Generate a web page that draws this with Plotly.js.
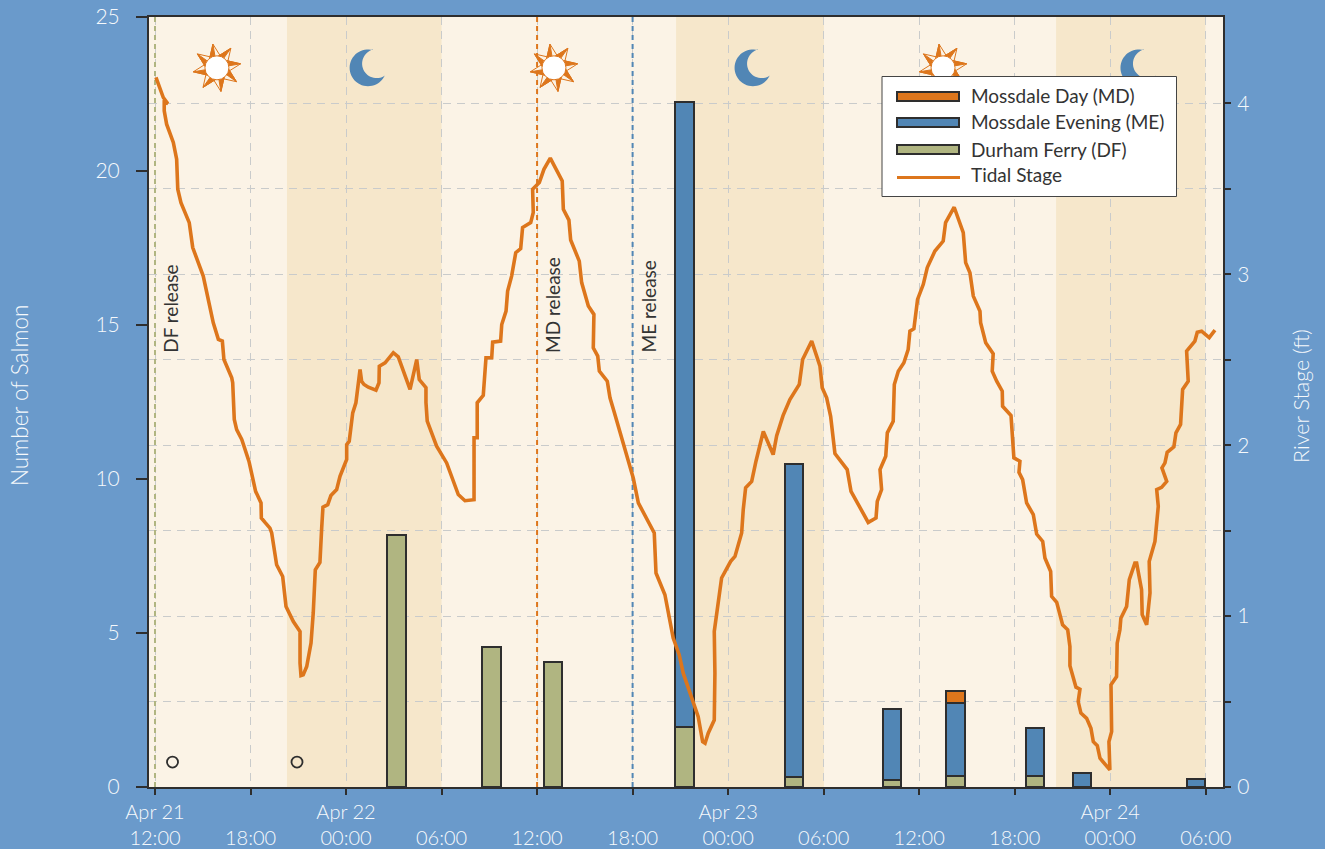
<!DOCTYPE html>
<html><head><meta charset="utf-8">
<script src="https://cdn.plot.ly/plotly-3.0.1.min.js"></script>
<style>html,body{margin:0;padding:0;background:#6A9ACB}</style></head>
<body><div id="chart" style="width:1325px;height:849px"></div>
<script>
// hours after Apr 21 12:00
const tickHours=[0,6,12,18,24,30,36,42,48,54,60,66];
const tickLabels=['Apr 21<br>12:00',' <br>18:00','Apr 22<br>00:00',' <br>06:00',' <br>12:00',' <br>18:00','Apr 23<br>00:00',' <br>06:00',' <br>12:00',' <br>18:00','Apr 24<br>00:00',' <br>06:00'];
const barHours=[15.17,21.14,25.0,33.26,40.16,46.29,50.28,55.3,58.22,65.37];
const durhamFerry=[8.18,4.55,4.06,1.96,0.32,0.23,0.36,0.36,null,null];
const mossdaleEvening=[null,null,null,20.28,10.17,2.3,2.37,1.57,0.44,0.26];
const mossdaleDay=[null,null,null,null,null,null,0.39,null,null,null];
const stageHours=[0.06,0.52,0.80,0.58,0.58,0.73,1.15,1.36,1.43,1.63,2.15,2.37,3.03,3.66,3.98,4.23,4.33,4.82,4.88,4.98,5.13,5.45,5.90,6.32,6.66,6.68,6.91,7.22,7.33,7.64,8.02,8.23,8.69,9.11,9.11,9.17,9.31,9.53,9.80,9.94,10.07,10.36,10.47,10.55,10.85,11.05,11.41,11.62,12.04,12.04,12.20,12.42,12.62,12.88,12.98,13.13,13.40,13.88,14.07,14.09,14.45,14.97,15.28,16.02,16.44,16.60,17.02,17.02,17.10,17.69,18.32,19.05,19.47,20.04,20.04,20.24,20.24,20.62,20.79,21.15,21.21,21.71,21.78,22.05,22.15,22.40,22.66,22.97,23.09,23.60,23.76,23.72,24.14,24.43,24.83,25.58,25.65,26.00,26.11,26.65,26.80,27.22,27.57,27.53,27.81,27.91,28.41,28.58,28.83,29.52,30.04,30.36,31.36,31.47,32.03,32.55,32.93,33.18,34.12,34.40,34.55,34.75,35.13,35.17,35.13,35.59,36.16,36.43,36.85,36.95,37.10,37.48,37.75,38.21,38.83,39.05,39.45,39.88,40.47,40.68,41.25,41.77,41.91,42.19,42.44,42.71,43.48,43.72,44.80,45.29,45.37,45.64,45.54,45.90,46.00,46.37,46.44,46.69,47.04,47.31,47.42,47.67,47.90,48.26,48.51,48.99,49.51,49.66,50.20,50.77,50.92,51.19,51.40,51.82,51.86,52.18,52.65,52.59,52.87,53.22,53.24,53.77,53.95,54.33,54.27,54.50,54.75,55.17,55.38,55.76,55.90,56.26,56.32,56.64,57.01,57.33,57.47,57.47,57.74,57.85,58.10,57.99,58.16,58.52,58.79,58.94,59.19,59.36,59.98,59.92,60.09,60.05,60.40,60.44,60.61,60.67,61.03,61.20,61.55,61.66,61.97,62.01,62.29,62.50,62.45,62.81,63.02,62.92,63.23,63.55,63.25,63.44,63.58,64.00,64.13,64.42,64.55,64.90,64.80,65.32,65.47,65.74,66.22,66.58];
const stageFeet=[4.152,4.034,3.999,4.005,3.956,3.878,3.771,3.673,3.497,3.419,3.302,3.156,2.989,2.716,2.619,2.609,2.501,2.394,2.365,2.150,2.091,2.033,1.906,1.730,1.662,1.574,1.548,1.515,1.486,1.300,1.232,1.056,0.968,0.910,0.725,0.652,0.656,0.705,0.842,1.018,1.271,1.314,1.515,1.638,1.652,1.705,1.740,1.818,1.916,2.003,2.023,2.189,2.248,2.443,2.374,2.355,2.339,2.322,2.365,2.462,2.482,2.541,2.517,2.326,2.501,2.384,2.336,2.250,2.140,1.994,1.896,1.711,1.675,1.681,2.043,2.043,2.248,2.291,2.511,2.511,2.603,2.609,2.706,2.784,2.902,2.989,3.126,3.150,3.273,3.302,3.361,3.497,3.536,3.614,3.679,3.546,3.380,3.317,3.200,3.077,2.951,2.814,2.765,2.570,2.521,2.433,2.374,2.277,2.198,1.974,1.808,1.662,1.486,1.252,1.125,0.871,0.773,0.666,0.412,0.265,0.256,0.315,0.392,0.666,0.910,1.223,1.320,1.349,1.486,1.623,1.750,1.788,1.906,2.080,1.945,2.056,2.173,2.267,2.355,2.501,2.609,2.462,2.336,2.277,2.169,1.951,1.857,1.730,1.548,1.574,1.671,1.740,1.857,1.935,2.072,2.140,2.355,2.433,2.482,2.560,2.667,2.681,2.853,2.941,3.039,3.136,3.194,3.302,3.392,3.244,3.068,3.009,2.872,2.784,2.716,2.599,2.535,2.433,2.374,2.316,2.228,2.173,1.926,1.906,1.841,1.798,1.662,1.593,1.480,1.437,1.340,1.261,1.115,1.080,0.949,0.920,0.822,0.709,0.627,0.584,0.572,0.500,0.432,0.402,0.344,0.265,0.242,0.168,0.100,0.265,0.324,0.598,0.646,0.842,0.920,0.988,1.056,1.213,1.310,1.310,1.154,1.008,0.949,1.135,1.320,1.437,1.642,1.740,1.753,1.788,1.867,1.896,1.958,1.990,2.072,2.121,2.326,2.374,2.550,2.609,2.661,2.667,2.629,2.673];
const markerHours=[1.10,8.92];
const markerCounts=[0.81,0.81];
const nightStarts=[8.29,32.73,56.6];
const nightEnds=[18,42.02,65.98];
const sunHours=[3.89,25.06,49.5];
const moonHours=[13.38,37.56,61.8];
const releaseHours=[0,24,30];
const releaseNames=['DF release','MD release','ME release'];
const releaseColors=['#B0B581','#DD761C','#5186B5'];
const legendNames=['Mossdale Day (MD)','Mossdale Evening (ME)','Durham Ferry (DF)','Tidal Stage'];
const leftTicks=[0,5,10,15,20,25];
const rightTicks=[0,0.5,1,1.5,2,2.5,3,3.5,4];
const rightLabels=['0','','1','','2','','3','','4'];

const ORANGE='#DD761C',BLUE='#5186B5',GREEN='#B0B581',INK='#2E2E2E',PALE='#F6F9FC';
const FONT='Lato, sans-serif';
const PW=1074,PH=770,L=149,T=17;
const px=v=>(v-L)/PW, py=v=>1-(v-T)/PH;

function polar(r,deg){const a=deg*Math.PI/180;return [r*Math.sin(a),r*Math.cos(a)];}
function sunShapes(h){
  const base={xref:'x',yref:'y',xsizemode:'pixel',ysizemode:'pixel',xanchor:h,yanchor:23.35,layer:'above'};
  const out=[];
  for(let k=0;k<8;k++){
    const th=-9.6+45*k;
    const tip=polar(24,th),l=polar(11.3,th-32),r=polar(11.3,th+32),m=polar(11,th);
    out.push(Object.assign({},base,{type:'path',path:`M${l[0]},${l[1]}L${tip[0]},${tip[1]}L${m[0]},${m[1]}Z`,fillcolor:ORANGE,line:{color:ORANGE,width:1}}));
    out.push(Object.assign({},base,{type:'path',path:`M${l[0]},${l[1]}L${tip[0]},${tip[1]}L${r[0]},${r[1]}Z`,fillcolor:'rgba(0,0,0,0)',line:{color:ORANGE,width:1}}));
  }
  out.push(Object.assign({},base,{type:'circle',x0:-12,x1:12,y0:-12,y1:12,fillcolor:'#FFFFFF',line:{color:ORANGE,width:1}}));
  return out;
}
function moonShape(h){
  const pts=[];
  const a0=Math.atan2(18,5),a1=Math.atan2(-8,17);
  for(let i=0;i<=40;i++){
    const t=a0+(2*Math.PI+a1-a0)*i/40;
    pts.push([18.4*Math.cos(t),18.4*Math.sin(t)]);
  }
  const cx=8.6,cy=4.2,r=14.5;
  const b0=Math.atan2(-8-cy,17-cx),b1=Math.atan2(18-cy,5-cx);
  for(let i=0;i<=30;i++){
    const t=b0+((b1<b0?b1:b1-2*Math.PI)-b0)*i/30;
    pts.push([cx+r*Math.cos(t),cy+r*Math.sin(t)]);
  }
  return {type:'path',xref:'x',yref:'y',xsizemode:'pixel',ysizemode:'pixel',xanchor:h,yanchor:23.35,layer:'above',
    path:'M'+pts.map(p=>p[0].toFixed(2)+','+p[1].toFixed(2)).join('L')+'Z',fillcolor:BLUE,line:{width:0}};
}

const shapes=[];
nightStarts.forEach((s,i)=>shapes.push({type:'rect',xref:'x',yref:'paper',x0:s,x1:nightEnds[i],y0:0,y1:1,fillcolor:'#F6E7CB',line:{width:0},layer:'below'}));
sunHours.forEach(h=>shapes.push(...sunShapes(h)));
moonHours.forEach(h=>shapes.push(moonShape(h)));
const rectP=(x0,x1,y0,y1,o)=>Object.assign({type:'rect',xref:'paper',yref:'paper',x0:px(x0),x1:px(x1),y0:py(y1),y1:py(y0),layer:'above'},o);
shapes.push(rectP(882,1176.5,76.5,196.5,{fillcolor:'#FFFFFF',line:{color:'#444',width:1}}));
[[ORANGE,92,101],[BLUE,118,127],[GREEN,145,154]].forEach(k=>shapes.push(rectP(897,959,k[1],k[2],{fillcolor:k[0],line:{color:INK,width:2}})));
shapes.push({type:'line',xref:'paper',yref:'paper',x0:px(897),x1:px(960),y0:py(177.5),y1:py(177.5),layer:'above',line:{color:ORANGE,width:3}});

const annotations=[];
releaseNames.forEach((n,i)=>annotations.push({text:n,x:releaseHours[i]+1.0,y:14.03,xref:'x',yref:'y',xanchor:'center',yanchor:'bottom',textangle:-90,showarrow:false,font:{family:FONT,size:19,color:'#333'}}));
legendNames.forEach((n,i)=>annotations.push({text:n,x:px(968.5),y:py([95,122,149,175][i]),xref:'paper',yref:'paper',xanchor:'left',yanchor:'middle',showarrow:false,font:{family:FONT,size:19,color:'#333'}}));
annotations.push({text:'Number of Salmon',x:px(19),y:py(395),xref:'paper',yref:'paper',xanchor:'center',yanchor:'middle',textangle:-90,showarrow:false,font:{family:FONT,size:22.5,color:PALE,weight:300}});
annotations.push({text:'River Stage (ft)',x:px(1301),y:py(396),xref:'paper',yref:'paper',xanchor:'center',yanchor:'middle',textangle:-90,showarrow:false,font:{family:FONT,size:21.5,color:PALE,weight:300}});

const barBase={type:'bar',x:barHours,width:1.14,yaxis:'y',hoverinfo:'y+name'};
const traces=[
  Object.assign({},barBase,{name:legendNames[2],y:durhamFerry,marker:{color:GREEN,line:{color:INK,width:2}}}),
  Object.assign({},barBase,{name:legendNames[1],y:mossdaleEvening,marker:{color:BLUE,line:{color:INK,width:2}}}),
  Object.assign({},barBase,{name:legendNames[0],y:mossdaleDay,marker:{color:ORANGE,line:{color:INK,width:2}}})
];
releaseHours.forEach((h,i)=>traces.push({type:'scatter',mode:'lines',x:[h,h],y:[0,25],yaxis:'y',name:releaseNames[i],line:{color:releaseColors[i],width:2,dash:'5px,4px'},hoverinfo:'name'}));
traces.push({type:'scatter',mode:'markers',x:markerHours,y:markerCounts,yaxis:'y',name:'Detections',marker:{symbol:'circle-open',size:11,color:INK,line:{color:INK,width:1.8}},hoverinfo:'skip'});
traces.push({type:'scatter',mode:'lines',x:stageHours,y:stageFeet,yaxis:'y2',name:legendNames[3],line:{color:ORANGE,width:3.6}});

const tickF={family:FONT,size:21,color:PALE,weight:300};
const tickX={family:FONT,size:20,color:PALE,weight:300};
const layout={
  width:1325,height:849,showlegend:false,barmode:'stack',
  paper_bgcolor:'#6A9ACB',plot_bgcolor:'#FBF3E6',
  margin:{l:L,r:1325-L-PW,t:T,b:849-T-PH,pad:0},
  xaxis:{type:'linear',range:[(L-155)/15.92,(L+PW-155)/15.92],tickmode:'array',tickvals:tickHours,ticktext:tickLabels,
    showgrid:true,gridcolor:'#C9CBCB',griddash:'8px,6px',gridwidth:1,zeroline:false,
    ticks:'outside',ticklen:6,tickwidth:2,tickcolor:INK,showline:true,linecolor:INK,linewidth:2,mirror:true,tickfont:tickX,tickangle:0},
  yaxis:{range:[0,25],tickmode:'array',tickvals:leftTicks,ticktext:leftTicks.map(String),showgrid:false,zeroline:false,
    ticks:'outside',ticklen:11,tickwidth:2,tickcolor:INK,showline:true,linecolor:INK,linewidth:2,tickfont:tickF,ticklabelstandoff:12},
  yaxis2:{range:[0,4.505],overlaying:'y',side:'right',tickmode:'array',tickvals:rightTicks,ticktext:rightLabels,
    showgrid:true,gridcolor:'#C9CBCB',griddash:'8px,6px',gridwidth:1,zeroline:false,
    ticks:'outside',ticklen:6,tickwidth:2,tickcolor:INK,showline:true,linecolor:INK,linewidth:2,tickfont:tickF,ticklabelstandoff:2},
  shapes:shapes,annotations:annotations,font:{family:FONT},bargap:0
};
Plotly.newPlot('chart',traces,layout,{displayModeBar:false,responsive:false});
</script></body></html>
